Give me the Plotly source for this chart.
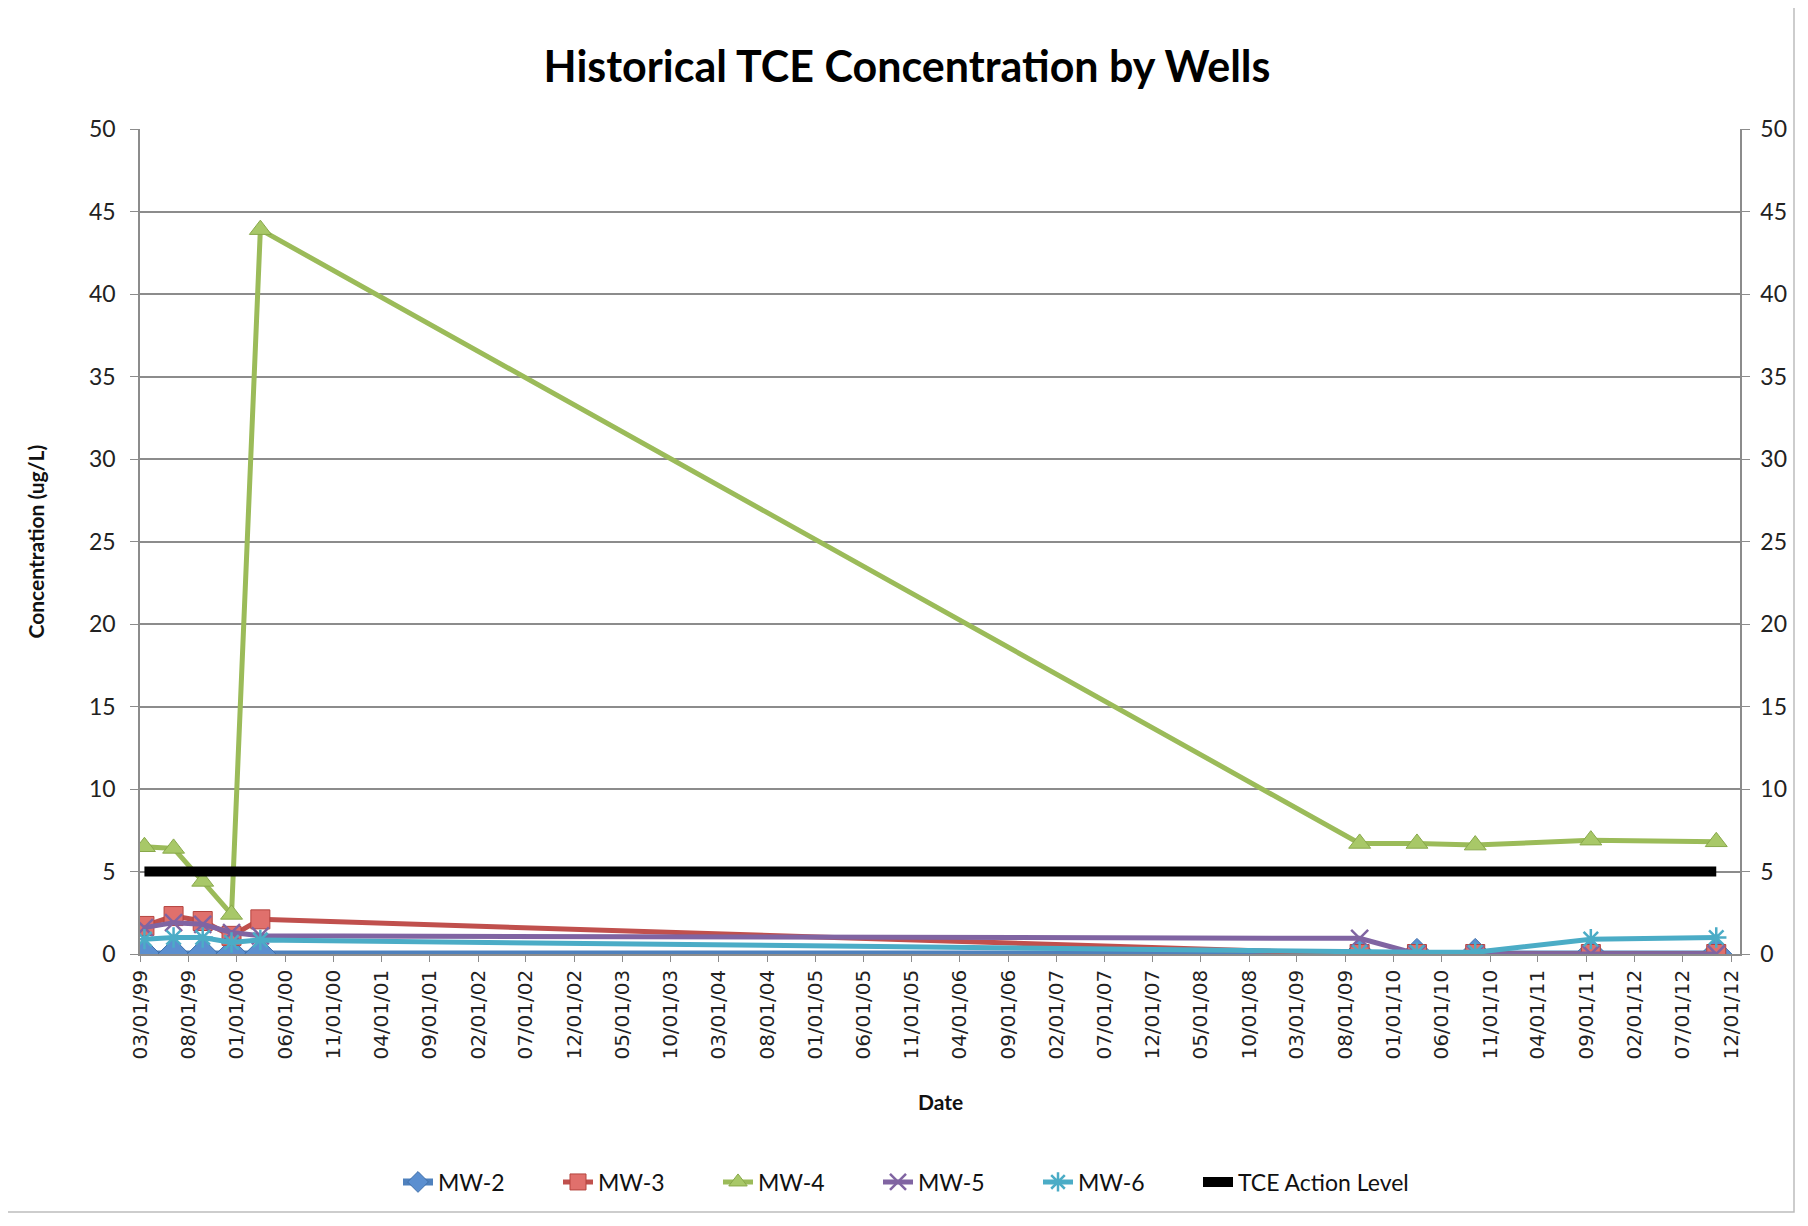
import plotly.graph_objects as go
from datetime import datetime

# ---------------- data ----------------
dates = ["1999-03-15", "1999-06-15", "1999-09-15", "1999-12-15", "2000-03-15",
         "2009-09-15", "2010-03-15", "2010-09-15", "2011-09-15", "2012-10-15"]
mw2 = [0, 0, 0, 0, 0, 0, 0, 0, 0, 0]
mw3 = [1.7, 2.3, 2.0, 1.1, 2.1, 0, 0, 0, 0, 0]
mw4 = [6.5, 6.4, 4.4, 2.4, 43.9, 6.7, 6.7, 6.6, 6.9, 6.8]
mw5 = [1.6, 1.9, 1.8, 1.3, 1.1, 0.95, 0, 0, 0, 0]
mw6 = [0.9, 1.0, 1.0, 0.7, 0.85, 0.1, 0.1, 0.1, 0.9, 1.0]
action_level = [5, 5, 5, 5, 5, 5, 5, 5, 5, 5]

x_tick_labels = ["03/01/99", "08/01/99", "01/01/00", "06/01/00", "11/01/00", "04/01/01",
                 "09/01/01", "02/01/02", "07/01/02", "12/01/02", "05/01/03", "10/01/03",
                 "03/01/04", "08/01/04", "01/01/05", "06/01/05", "11/01/05", "04/01/06",
                 "09/01/06", "02/01/07", "07/01/07", "12/01/07", "05/01/08", "10/01/08",
                 "03/01/09", "08/01/09", "01/01/10", "06/01/10", "11/01/10", "04/01/11",
                 "09/01/11", "02/01/12", "07/01/12", "12/01/12"]
y_ticks = [0, 5, 10, 15, 20, 25, 30, 35, 40, 45, 50]
x_range = ["1999-03-01", "2012-12-29"]

x_tick_vals = [datetime.strptime(t, "%m/%d/%y").strftime("%Y-%m-%d") for t in x_tick_labels]

# ---------------- figure ----------------
W, H = 1792, 1210
ML, MR, MT, MB = 132, 60, 121, 264
PW, PH = W - ML - MR, H - MT - MB

fig = go.Figure()

series = [
    ("MW-2", mw2, "#4F81BD", 7, dict(symbol="diamond", size=24, color="#5B8FD0",
                                      line=dict(color="#3F6FAA", width=1))),
    ("MW-3", mw3, "#C0504D", 5, dict(symbol="square", size=19, color="#E0706C",
                                      line=dict(color="#B5443F", width=1))),
    ("MW-4", mw4, "#9BBB59", 5, dict(symbol="triangle-up", size=19, color="#A8C868",
                                      line=dict(color="#88A84A", width=1))),
    ("MW-5", mw5, "#8064A2", 5, dict(symbol="x-thin", size=17,
                                      line=dict(color="#8064A2", width=2.5))),
    ("MW-6", mw6, "#4BACC6", 5, dict(symbol="asterisk", size=17,
                                      line=dict(color="#4BACC6", width=2.5))),
]
for name, vals, col, lw, mk in series:
    fig.add_trace(go.Scatter(x=dates, y=vals, name=name, mode="lines+markers",
                             line=dict(color=col, width=lw), marker=mk,
                             xaxis="x", yaxis="y", legend="legend"))

fig.add_trace(go.Scatter(x=dates, y=action_level, name="TCE Action Level", mode="lines",
                         line=dict(color="#000000", width=10), xaxis="x", yaxis="y2",
                         legend="legend2"))

grid_col = "#8C8C8C"
axis_font = dict(family="Lato, Open Sans, sans-serif", size=23, color="#222222")
legend_font = dict(family="Lato, Open Sans, sans-serif", size=23, color="#111111")
legend_y = 1 - (1174 - MT) / PH

fig.update_layout(
    width=W, height=H,
    margin=dict(l=ML, r=MR, t=MT, b=MB),
    paper_bgcolor="white", plot_bgcolor="white",
    title=dict(text="<b>Historical TCE Concentration by Wells</b>",
               font=dict(family="Lato, Open Sans, sans-serif", size=43, color="#000000"),
               x=(907 - 8) / W, xanchor="center", y=1 - (67 - 8) / H, yanchor="middle"),
    xaxis=dict(type="date", range=x_range, tickvals=x_tick_vals, ticktext=x_tick_labels,
               tickangle=-90, tickfont=dict(family="DejaVu Sans, Verdana, sans-serif",
                                            size=20, color="#222222"),
               ticks="outside", ticklen=6, tickcolor=grid_col,
               showgrid=False, showline=True, linecolor=grid_col, linewidth=1.5,
               zeroline=False),
    yaxis=dict(range=[0, 50], tickvals=y_ticks, ticks="outside", ticklen=8,
               tickcolor=grid_col, showgrid=True, gridcolor=grid_col, gridwidth=1.5,
               showline=True, linecolor=grid_col, linewidth=1.5, zeroline=False,
               tickfont=axis_font, ticklabelstandoff=10),
    yaxis2=dict(range=[0, 50], tickvals=y_ticks, ticks="outside", ticklen=8,
                tickcolor=grid_col, showgrid=False, overlaying="y", side="right",
                showline=True, linecolor=grid_col, linewidth=1.5, zeroline=False,
                tickfont=axis_font, ticklabelstandoff=6),
    legend=dict(orientation="h", x=(398 - 8 - ML) / PW, xanchor="left",
                y=legend_y, yanchor="middle", font=legend_font,
                entrywidth=115, tracegroupgap=0),
    legend2=dict(orientation="h", x=(1198 - 8 - ML) / PW, xanchor="left",
                 y=legend_y, yanchor="middle", font=legend_font, tracegroupgap=0),
    showlegend=True,
    annotations=[
        dict(text="<b>Date</b>", xref="paper", yref="paper", x=0.5,
             y=1 - (1093 - MT) / PH, xanchor="center", yanchor="middle",
             showarrow=False, font=dict(family="Lato, Open Sans, sans-serif", size=21,
                                        color="#111111")),
        dict(text="<b>Concentration (ug/L)</b>", xref="paper", yref="paper",
             x=(27 - ML) / PW, y=0.5, xanchor="center", yanchor="middle",
             textangle=-90, showarrow=False,
             font=dict(family="Lato, Open Sans, sans-serif", size=21, color="#111111")),
    ],
    shapes=[dict(type="rect", xref="paper", yref="paper",
                 x0=(-2 - ML) / PW, x1=1 + (MR - 6) / PW,
                 y0=-(MB - 6) / PH, y1=1 + (MT + 2) / PH,
                 line=dict(color="#BDBDBD", width=1.5), layer="below")],
)

fig.write_html("out.html")
